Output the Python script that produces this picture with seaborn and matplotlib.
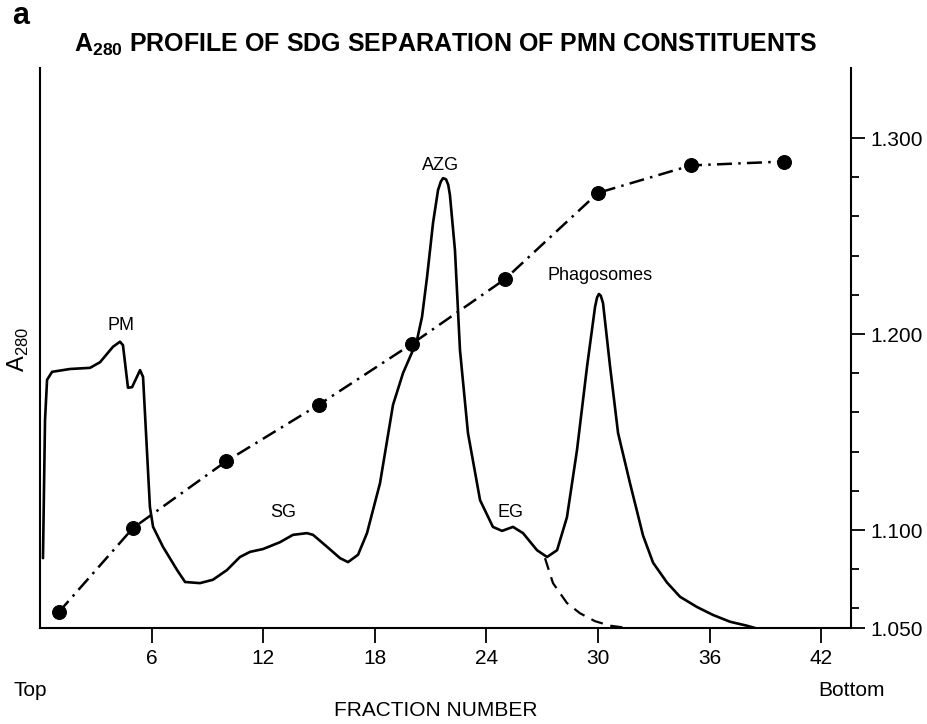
import numpy as np
import pandas as pd
import matplotlib
matplotlib.use("Agg")
import matplotlib.pyplot as plt
import seaborn as sns

# ---- data ----
# A280 absorbance profile (arbitrary units, 0 = baseline)
a280_fraction = [0.16, 0.27, 0.38, 0.65, 1.61, 2.69, 3.23, 3.92, 4.30, 4.46, 4.73, 4.95,
                 5.38, 5.54, 5.91, 6.08, 6.61, 7.37, 7.80, 8.60, 9.30, 10.05, 10.75, 11.29,
                 11.99, 12.90, 13.60, 14.35, 14.68, 15.43, 16.13, 16.56, 17.10, 17.58, 18.28,
                 18.98, 19.52, 20.05, 20.27, 20.54, 20.81, 21.13, 21.40, 21.55, 21.67, 21.83,
                 21.95, 22.04, 22.31, 22.58, 23.01, 23.66, 24.35, 24.84, 25.43, 25.97, 26.72,
                 27.26, 27.80, 28.33, 28.87, 29.41, 29.84, 29.95, 30.05, 30.15, 30.27, 30.65,
                 31.08, 31.72, 32.42, 32.96, 33.71, 34.41, 35.32, 36.18, 37.10, 38.01, 38.44]
a280_value = [0.123, 0.366, 0.437, 0.451, 0.456, 0.458, 0.468, 0.495, 0.504, 0.498, 0.423, 0.424,
              0.454, 0.442, 0.213, 0.178, 0.143, 0.102, 0.081, 0.079, 0.085, 0.102, 0.125, 0.134,
              0.139, 0.151, 0.164, 0.167, 0.164, 0.143, 0.123, 0.116, 0.129, 0.167, 0.255,
              0.393, 0.449, 0.489, 0.507, 0.548, 0.618, 0.713, 0.771, 0.786, 0.792, 0.790,
              0.780, 0.762, 0.665, 0.489, 0.343, 0.225, 0.178, 0.171, 0.178, 0.167, 0.137,
              0.125, 0.137, 0.195, 0.313, 0.460, 0.565, 0.582, 0.588, 0.585, 0.572, 0.460,
              0.343, 0.255, 0.163, 0.115, 0.080, 0.055, 0.037, 0.023, 0.011, 0.004, 0.0]

# extrapolated tail of the EG peak (dashed)
eg_fraction = [27.15, 27.58, 28.33, 29.03, 29.84, 30.65, 31.60]
eg_value = [0.123, 0.079, 0.044, 0.026, 0.012, 0.004, 0.0]

# gradient density (right axis)
density_fraction = [1, 5, 10, 15, 20, 25, 30, 35, 40]
density_value = [1.058, 1.101, 1.135, 1.164, 1.195, 1.228, 1.272, 1.286, 1.288]

x_ticks = [6, 12, 18, 24, 30, 36, 42]
density_major = [1.05, 1.10, 1.20, 1.30]
density_major_labels = ["1.050", "1.100", "1.200", "1.300"]
density_minor = [1.06, 1.08, 1.12, 1.14, 1.16, 1.18, 1.22, 1.24, 1.26, 1.28]

peak_labels = ["PM", "SG", "AZG", "EG", "Phagosomes"]
peak_x = [4.35, 13.06, 21.56, 25.27, 30.1]
peak_y = [0.532, 0.204, 0.815, 0.204, 0.621]

# ---- style ----
sns.set_theme(style="white")
plt.rcParams["font.family"] = ["Liberation Sans", "DejaVu Sans"]
plt.rcParams["mathtext.fontset"] = "custom"
plt.rcParams["mathtext.rm"] = "Liberation Sans"
plt.rcParams["mathtext.bf"] = "Liberation Sans:bold"
for k in ["text.color", "axes.labelcolor", "xtick.color", "ytick.color", "axes.edgecolor"]:
    plt.rcParams[k] = "black"
narrow = ["Liberation Sans Narrow", "Liberation Sans", "DejaVu Sans"]

W, H = 928, 724
fig = plt.figure(figsize=(W / 100, H / 100), dpi=100)
ax = fig.add_axes([40 / W, 96 / H, 811 / W, 560 / H])

df_a = pd.DataFrame({"fraction": a280_fraction, "A280": a280_value})
df_eg = pd.DataFrame({"fraction": eg_fraction, "A280": eg_value})
df_d = pd.DataFrame({"fraction": density_fraction, "density": density_value})

sns.lineplot(data=df_a, x="fraction", y="A280", ax=ax, color="black", lw=1.9,
             sort=False, estimator=None)
ax.lines[-1].set_solid_joinstyle("round")
sns.lineplot(data=df_eg, x="fraction", y="A280", ax=ax, color="black", lw=1.6,
             sort=False, estimator=None, dashes=False)
ax.lines[-1].set_dashes((5.5, 3.5))

ax.set_xlim(0, 811 / 18.6)
ax.set_ylim(0, 560 / 568)

ax2 = ax.twinx()
sns.lineplot(data=df_d, x="fraction", y="density", ax=ax2, color="black", lw=1.8,
             marker="o", markersize=10, markeredgecolor="black", sort=False, estimator=None)
ax2.lines[-1].set_dashes((6, 2.5, 1, 2.5))
ax2.set_ylim(1.05, 1.05 + 560 / 1960)
ax2.set_xlim(0, 811 / 18.6)

# axes cosmetics
ax.spines["top"].set_visible(False)
ax2.spines["top"].set_visible(False)
ax.spines["right"].set_visible(False)
ax2.spines["left"].set_visible(False)
ax2.spines["bottom"].set_visible(False)
for sp in [ax.spines["left"], ax.spines["bottom"], ax2.spines["right"]]:
    sp.set_color("black")
    sp.set_linewidth(1.5)

ax.set_yticks([])
ax.set_xticks(x_ticks)
ax.set_xticklabels([str(t) for t in x_ticks], fontfamily=narrow, fontsize=15)
ax.tick_params(axis="x", direction="out", length=11, width=1.3, color="black",
               pad=4, bottom=True)
ax.set_xlabel("")
ax.set_ylabel("")

ax2.set_yticks(density_major)
ax2.set_yticklabels(density_major_labels, fontsize=15)
ax2.set_yticks(density_minor, minor=True)
ax2.tick_params(axis="y", which="major", direction="out", length=10, width=1.3,
                color="black", pad=4, right=True)
ax2.tick_params(axis="y", which="minor", direction="out", length=6, width=1.3,
                color="black", right=True)
ax2.set_ylabel("")

# peak labels
for lab, px, py in zip(peak_labels, peak_x, peak_y):
    ax.text(px, py, lab, ha="center", va="center", fontsize=13, color="black")

# figure texts
fig.text(12 / W, 1 - 16 / H, "a", fontsize=22, fontweight="bold", ha="left", va="center")
fig.text(446 / W, 1 - 45 / H, r"A$_{\mathbf{280}}$ PROFILE OF SDG SEPARATION OF PMN CONSTITUENTS",
         fontsize=18, fontweight="bold", ha="center", va="center")
fig.text(18 / W, 1 - 350 / H, r"A$_{\mathrm{280}}$", fontsize=17, rotation=90,
         ha="center", va="center")
fig.text(30 / W, 1 - 690 / H, "Top", fontsize=15, fontfamily=narrow, ha="center", va="center")
fig.text(852 / W, 1 - 690 / H, "Bottom", fontsize=15, fontfamily=narrow, ha="center", va="center")
fig.text(436 / W, 1 - 711 / H, "FRACTION NUMBER", fontsize=15, fontfamily=narrow,
         ha="center", va="center")

fig.savefig("out.png", dpi=100)
